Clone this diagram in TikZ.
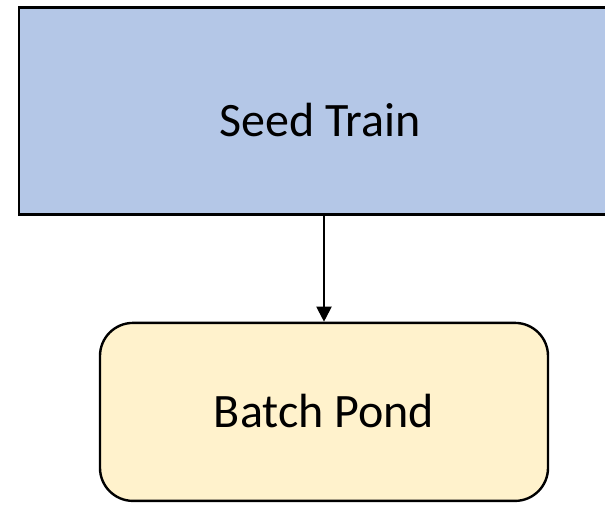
\documentclass[tikz,border=0pt]{standalone}
\usepackage{fontspec}
\setmainfont{Carlito}
\usepackage{xcolor}
\usetikzlibrary{arrows.meta, positioning}
\definecolor{trainblue}{HTML}{B4C7E7}
\definecolor{pondyellow}{HTML}{FFF2CC}
\tikzstyle{stage} = [rectangle, draw=black, line width=2.4pt, text centered, font=\fontsize{48}{57}\selectfont]
\tikzstyle{arrow} = [line width=2pt, -{Triangle[length=15pt, width=15pt]}]

\begin{document}
\begin{tikzpicture}[x=1pt, y=-1pt]
\useasboundingbox (0,0) rectangle (605,504);

% Seed train runs past the right edge
\node (train) [stage, fill=trainblue, minimum width=602pt, minimum height=207pt, text height=51pt, text depth=0pt] at (320,111) {Seed Train};

% Batch pond
\node (pond) [stage, fill=pondyellow, rounded corners=33pt, minimum width=448pt, minimum height=178pt, text height=31pt, text depth=0pt, below=106pt of train.south, anchor=north, xshift=4pt] {Batch Pond};

\draw [arrow] (train.south -| pond.north) -- (pond.north);

\end{tikzpicture}
\end{document}
